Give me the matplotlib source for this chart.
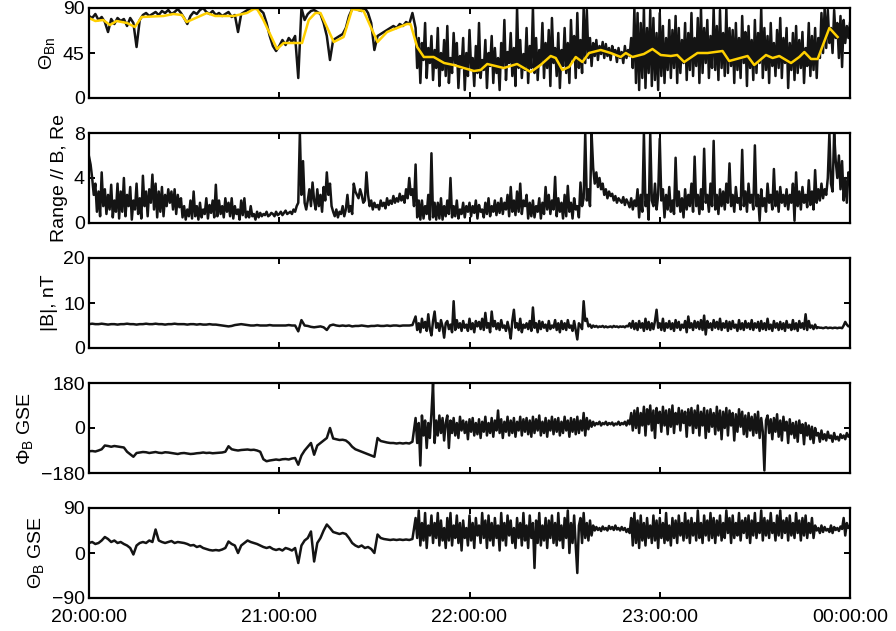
import numpy as np
import matplotlib
matplotlib.use("Agg")
import matplotlib.pyplot as plt

plt.rcParams['font.family'] = ['Liberation Sans', 'DejaVu Sans']
plt.rcParams['mathtext.fontset'] = 'custom'
plt.rcParams['mathtext.rm'] = 'Liberation Sans'
plt.rcParams['mathtext.it'] = 'Liberation Sans:italic'

FS = 14

# 1-minute samples from 20:00 to 21:42, then 30-s samples from 21:43 onwards
theta_bn_1min = [
    82, 80, 84, 78, 81, 76, 66, 79, 74, 80,
    77, 79, 72, 80, 75, 51, 78, 83, 85, 82,
    84, 86, 83, 87, 85, 88, 84, 86, 89, 85,
    80, 74, 82, 86, 84, 88, 90, 86, 84, 87,
    83, 85, 82, 84, 86, 81, 83, 66, 84, 86,
    88, 89, 90, 89, 88, 85, 75, 62, 52, 47,
    52, 58, 53, 60, 56, 62, 20, 90, 78, 84,
    87, 88, 86, 84, 75, 62, 38, 58, 60, 62,
    64, 70, 82, 89, 90, 88, 87, 90, 85, 75,
    48, 62, 64, 66, 68, 70, 72, 70, 74, 72,
    76, 74, 85,
]
theta_bn_30s = [
    70, 30, 60, 15, 55, 38, 75, 20, 50, 35,
    62, 18, 48, 30, 70, 12, 45, 28, 58, 22,
    72, 15, 40, 25, 65, 35, 55, 10, 42, 30,
    60, 8, 45, 22, 68, 30, 40, 12, 52, 25,
    75, 20, 38, 28, 58, 10, 45, 32, 62, 15,
    50, 25, 40, 8, 55, 30, 78, 18, 46, 35,
    65, 22, 50, 12, 90, 30, 58, 20, 44, 28,
    70, 15, 52, 30, 90, 25, 60, 18, 48, 35,
    75, 20, 55, 30, 68, 12, 80, 35, 50, 22,
    65, 10, 48, 32, 70, 25, 55, 15, 78, 38,
    62, 20, 85, 30, 58, 25, 90, 35, 88, 40,
    60, 32, 55, 42, 58, 38, 52, 44, 56, 40,
    54, 42, 50, 38, 52, 45, 48, 36, 50, 40,
    46, 35, 52, 40, 48, 42, 60, 30, 90, 15,
    85, 8, 75, 20, 90, 10, 70, 25, 88, 12,
    80, 18, 65, 8, 85, 22, 72, 15, 60, 28,
    78, 20, 68, 30, 82, 15, 70, 25, 58, 35,
    75, 18, 65, 28, 85, 22, 60, 32, 80, 15,
    90, 25, 70, 35, 78, 20, 62, 30, 90, 28,
    72, 18, 88, 30, 65, 22, 90, 25, 70, 32,
    68, 15, 75, 28, 60, 20, 82, 35, 66, 12,
    72, 30, 58, 18, 78, 25, 65, 35, 90, 20,
    70, 28, 62, 15, 75, 32, 55, 22, 68, 30,
    80, 20, 60, 35, 70, 10, 55, 28, 65, 18,
    72, 25, 58, 30, 66, 15, 50, 32, 75, 22,
    62, 28, 70, 20, 60, 40, 85, 45, 90, 50,
    88, 55, 70, 45, 88, 60, 75, 40, 82, 31,
    78, 55, 72, 60, 75,
]

# running average of theta_Bn (minutes after 20:00, degrees)
theta_avg_min = [
    0, 2, 4.5, 6.6, 8.7, 12, 14.5, 16.6, 23.5, 26.6,
    29.3, 30.8, 37.2, 39.8, 45.6, 49.8, 52, 53, 55, 59.3,
    61.4, 64.5, 67.2, 69.3, 71.4, 73, 77.2, 80.3, 83, 86.6,
    91, 94, 100.3, 101.4, 103.5, 105.6, 108.7, 112, 115, 121.4,
    123.5, 125.6, 130.8, 135, 139.3, 142.4, 145.6, 147.2, 149.3, 151.4,
    153.5, 155.6, 157.7, 161.4, 164.5, 167.7, 169.3, 171.4, 175, 177.7,
    180.3, 183.5, 185.5, 187.7, 191.9, 195.1, 199.8, 201.9, 207.7, 209.8,
    213.5, 215.6, 217.7, 221.4, 224, 225.6, 227.7, 229.8, 233.5, 236.1,
]
theta_avg = [
    80, 77, 78, 73, 77, 75, 71, 81, 82, 84,
    83, 76, 85, 82, 82, 85, 89, 89, 78, 49,
    55, 55, 55, 78, 85, 85, 56, 61, 89, 87,
    56, 66, 74, 74, 51, 41, 41, 35, 33, 27,
    28, 34, 30, 34, 26, 33, 42, 40, 28, 31,
    41, 36, 45, 48, 45, 41, 45, 41, 44, 49,
    43, 42, 43, 36, 45, 45, 47, 37, 42, 33,
    43, 40, 42, 35, 41, 46, 39, 39, 70, 61,
]

# connection range along B, 30-s samples over the full interval
range_re_30s = [
    5.9, 5.2, 4.0, 2.5, 3.5, 1.0, 2.8, 0.6, 4.5, 1.5,
    3.0, 0.8, 2.5, 1.2, 3.4, 0.5, 2.0, 1.0, 3.5, 0.4,
    2.8, 1.0, 4.0, 0.6, 2.5, 1.5, 3.2, 0.3, 2.0, 1.2,
    3.5, 0.8, 2.2, 0.4, 4.2, 1.5, 2.8, 0.6, 3.0, 1.8,
    4.3, 1.2, 3.5, 0.5, 2.8, 1.0, 3.2, 0.6, 2.5, 1.5,
    3.0, 1.8, 2.8, 1.2, 3.0, 0.8, 2.5, 1.4, 2.2, 0.5,
    1.5, 0.3, 1.2, 0.6, 2.0, 0.4, 2.8, 0.6, 1.5, 0.3,
    1.8, 0.5, 1.2, 0.8, 2.2, 0.4, 1.6, 0.9, 2.0, 0.5,
    3.4, 0.6, 2.0, 0.8, 1.5, 0.5, 2.2, 1.0, 1.8, 0.6,
    2.2, 0.4, 1.5, 0.8, 1.2, 0.3, 2.0, 0.7, 2.2, 0.5,
    1.0, 0.5, 1.5, 0.6, 0.8, 0.3, 1.0, 0.5, 0.9, 0.6,
    0.8, 0.7, 1.0, 0.6, 0.7, 0.9, 0.8, 0.6, 1.0, 0.7,
    0.8, 1.0, 0.7, 0.9, 1.1, 0.8, 0.9, 1.0, 0.8, 1.2,
    1.0, 1.5, 1.8, 8.0, 2.5, 5.5, 1.8, 1.2, 2.0, 3.0,
    1.5, 3.6, 2.0, 1.2, 3.0, 1.5, 2.5, 1.0, 3.2, 2.0,
    4.5, 2.5, 3.5, 1.5, 1.0, 0.6, 1.2, 0.5, 1.0, 0.8,
    1.5, 0.6, 1.2, 2.5, 1.0, 1.5, 0.8, 3.5, 2.8, 2.5,
    2.2, 3.0, 2.5, 1.8, 2.0, 4.5, 2.5, 1.5, 2.0, 1.2,
    1.8, 1.4, 1.6, 1.2, 2.0, 1.5, 1.8, 1.3, 2.2, 1.6,
    2.0, 1.7, 2.4, 1.8, 2.2, 1.9, 2.6, 2.0, 2.4, 1.8,
    3.0, 2.2, 4.0, 2.5, 3.0, 1.5, 5.2, 0.5, 2.0, 0.3,
    2.0, 0.4, 1.5, 0.8, 2.5, 0.3, 6.2, 0.5, 1.8, 0.3,
    1.8, 0.4, 2.2, 0.3, 1.5, 0.6, 2.0, 0.8, 4.0, 0.5,
    1.5, 0.6, 2.0, 0.4, 1.2, 0.8, 1.8, 0.5, 1.5, 1.0,
    1.8, 0.6, 1.5, 0.9, 2.0, 0.4, 1.6, 1.0, 1.2, 0.5,
    1.8, 0.8, 2.2, 0.6, 1.5, 1.0, 2.0, 0.7, 1.8, 0.9,
    2.2, 0.8, 1.8, 1.2, 2.5, 0.6, 3.2, 1.0, 2.0, 0.7,
    2.8, 1.0, 3.5, 0.8, 2.0, 1.5, 2.5, 0.4, 1.8, 0.6,
    2.0, 0.5, 1.5, 1.0, 2.2, 0.4, 1.8, 0.8, 3.2, 1.2,
    2.5, 0.8, 2.0, 1.2, 4.1, 0.6, 2.2, 1.0, 1.8, 0.4,
    2.5, 0.6, 3.3, 1.0, 1.8, 0.4, 2.2, 1.2, 1.5, 0.5,
    3.6, 1.5, 2.2, 8.0, 2.0, 3.0, 1.5, 8.0, 4.9, 3.5,
    4.5, 3.2, 4.0, 3.0, 3.5, 2.5, 3.0, 2.2, 2.8, 2.4,
    2.6, 2.0, 2.4, 1.8, 2.2, 2.0, 1.8, 2.3, 1.6, 2.1,
    1.8, 1.4, 2.2, 1.2, 2.0, 1.5, 3.0, 0.5, 2.5, 1.0,
    8.0, 1.5, 2.5, 0.3, 8.0, 2.0, 1.5, 3.5, 1.2, 2.5,
    7.5, 2.0, 3.0, 0.5, 2.5, 1.2, 3.2, 1.0, 2.0, 0.8,
    5.8, 1.5, 2.8, 1.0, 2.2, 0.5, 3.0, 1.2, 2.5, 1.5,
    3.5, 1.0, 5.9, 1.5, 2.5, 0.8, 3.0, 1.2, 6.6, 1.8,
    2.5, 1.0, 3.5, 1.5, 7.3, 1.2, 2.5, 0.8, 3.0, 1.5,
    2.8, 1.2, 3.5, 1.8, 5.3, 1.5, 2.5, 1.0, 3.2, 1.8,
    2.2, 1.2, 6.5, 1.5, 2.8, 1.0, 3.5, 1.8, 2.5, 1.2,
    6.9, 1.5, 2.5, 0.2, 3.0, 1.5, 2.2, 1.0, 3.5, 1.8,
    2.5, 1.2, 4.8, 1.5, 2.8, 1.0, 3.2, 1.8, 2.5, 1.5,
    3.0, 1.2, 2.5, 1.8, 3.5, 0.2, 4.5, 1.5, 2.8, 1.2,
    3.2, 1.8, 2.5, 1.4, 3.8, 1.6, 2.8, 1.2, 4.7, 1.8,
    3.0, 2.0, 3.5, 2.2, 3.0, 2.5, 4.0, 8.0, 3.5, 2.8,
    8.0, 5.5, 4.0, 6.0, 3.0, 5.5, 2.0, 4.0, 1.8, 4.5,
    4.2,
]

b_mag_1min = [
    5.3, 5.4, 5.3, 5.3, 5.4, 5.3, 5.2, 5.3, 5.3, 5.2,
    5.3, 5.3, 5.4, 5.3, 5.3, 5.2, 5.3, 5.3, 5.4, 5.3,
    5.3, 5.4, 5.3, 5.3, 5.2, 5.3, 5.3, 5.4, 5.3, 5.3,
    5.3, 5.2, 5.3, 5.3, 5.2, 5.3, 5.2, 5.2, 5.3, 5.2,
    5.2, 5.1, 5.0, 4.9, 4.8, 4.9, 5.1, 5.2, 5.3, 5.2,
    5.1, 5.0, 5.0, 5.1, 5.0, 5.0, 5.0, 5.1, 5.0, 5.0,
    5.0, 5.0, 5.0, 5.1, 5.0, 5.0, 3.7, 6.2, 5.0, 4.9,
    4.7, 4.6, 4.7, 4.8, 4.6, 4.0, 5.0, 5.2, 5.0, 4.9,
    5.0, 4.9, 5.0, 4.8, 4.9, 4.9, 5.0, 4.9, 4.8, 4.9,
    4.9, 5.0, 4.9, 4.9, 5.0, 4.9, 5.0, 5.0, 4.9, 5.0,
    5.0, 5.0, 5.1,
]
b_mag_30s = [
    7.0, 4.0, 5.5, 3.5, 6.5, 4.5, 5.8, 3.8, 7.5, 4.2,
    2.8, 6.0, 8.1, 4.5, 5.5, 3.8, 6.2, 4.8, 2.3, 5.5,
    6.0, 4.2, 5.2, 3.5, 10.4, 4.0, 6.2, 4.5, 5.5, 3.8,
    6.0, 4.5, 5.2, 3.8, 6.5, 4.2, 5.5, 3.5, 6.0, 4.8,
    5.8, 4.2, 6.5, 4.0, 7.8, 4.5, 5.5, 3.5, 8.1, 4.8,
    6.0, 4.2, 5.5, 4.0, 6.2, 4.5, 5.0, 3.8, 5.8, 4.2,
    2.1, 6.0, 8.5, 4.5, 5.5, 4.0, 6.5, 3.5, 5.2, 4.5,
    5.5, 4.2, 6.0, 3.8, 9.0, 4.5, 5.5, 3.5, 6.0, 4.2,
    5.8, 4.5, 5.2, 3.8, 6.0, 4.2, 5.0, 4.5, 6.2, 4.0,
    5.5, 3.5, 6.0, 4.2, 5.5, 4.0, 6.2, 4.5, 5.0, 3.8,
    6.0, 4.0, 1.9, 5.5, 5.0, 4.2, 10.4, 6.0, 6.5, 4.8,
    5.2, 4.5, 5.0, 4.7, 4.9, 4.6, 4.8, 4.7, 4.9, 4.6,
    4.8, 4.6, 4.7, 4.8, 4.6, 4.9, 4.7, 4.8, 4.6, 4.8,
    4.7, 4.8, 4.6, 4.9, 4.8, 5.5, 4.5, 6.0, 4.2, 5.5,
    4.0, 6.0, 4.5, 5.5, 3.8, 6.5, 4.2, 5.8, 4.0, 5.5,
    4.2, 6.0, 8.5, 4.5, 5.5, 4.0, 6.5, 3.8, 5.5, 4.5,
    6.0, 4.2, 5.5, 3.8, 6.2, 4.5, 5.8, 4.0, 5.2, 4.5,
    6.0, 3.5, 7.0, 4.5, 5.5, 4.0, 6.0, 4.5, 5.8, 4.2,
    6.2, 4.0, 7.2, 3.0, 6.0, 4.5, 5.5, 4.0, 6.2, 4.5,
    5.8, 4.2, 6.5, 4.0, 5.5, 4.5, 6.0, 3.8, 5.8, 4.2,
    6.0, 4.5, 5.2, 3.8, 6.2, 4.2, 5.5, 4.0, 6.0, 4.5,
    5.5, 4.2, 6.2, 4.0, 5.5, 4.5, 5.8, 3.8, 6.0, 4.2,
    5.5, 4.0, 6.5, 4.2, 5.2, 3.8, 6.0, 4.5, 5.5, 4.0,
    5.8, 4.2, 5.5, 3.8, 6.0, 4.5, 5.2, 4.0, 6.2, 4.2,
    5.5, 3.8, 6.0, 4.5, 5.5, 4.2, 7.5, 4.0, 6.0, 4.5,
    5.0, 4.2, 5.2, 4.4, 4.6, 4.5, 4.5, 4.4, 4.5, 4.6,
    4.4, 4.5, 4.5, 4.4, 4.5, 4.5, 4.4, 4.5, 4.5, 4.4,
    5.0, 5.8, 5.2, 4.8, 5.0,
]

phi_gse_1min = [
    -93, -92, -94, -90, -85, -70, -72, -75, -72, -74,
    -76, -78, -95, -105, -115, -100, -98, -96, -97, -100,
    -98, -96, -99, -100, -97, -98, -100, -102, -104, -101,
    -100, -102, -104, -103, -101, -100, -98, -100, -99, -101,
    -100, -99, -98, -95, -73, -85, -88, -90, -88, -87,
    -86, -88, -87, -90, -95, -125, -133, -130, -128, -126,
    -128, -125, -124, -126, -122, -120, -147, -110, -90, -75,
    -60, -107, -70, -60, -50, -40, 0, -42, -45, -48,
    -47, -50, -60, -75, -85, -90, -95, -100, -105, -110,
    -115, -40, -52, -55, -58, -60, -60, -62, -60, -62,
    -60, -62, -55,
]
phi_gse_30s = [
    40, -60, 20, -150, 50, -30, 30, -80, 20, -40,
    60, 180, -60, 30, -30, 50, -20, 40, -50, 20,
    50, -80, 30, -20, 40, -30, 20, -40, 45, -10,
    30, -20, 25, -45, 35, -15, 40, -30, 20, -25,
    35, -40, 25, -15, 45, -30, 20, -20, 40, -35,
    30, -10, 70, -20, 35, -40, 25, -15, 45, -30,
    30, -20, 40, -35, 25, -10, 45, -30, 35, -15,
    40, -25, 30, -35, 45, -20, 35, -10, 50, -30,
    25, -20, 40, -35, 30, -10, 45, -25, 35, -15,
    40, -30, 25, -20, 45, -10, 30, -35, 40, -15,
    35, -25, 45, -20, 30, -10, 60, -30, 40, -5,
    30, 5, 25, 10, 20, 15, 25, 10, 20, 15,
    25, 12, 20, 15, 22, 10, 18, 14, 25, 12,
    20, 15, 25, 10, 30, 15, 60, -10, 70, 0,
    80, -20, 60, 10, 85, -30, 75, 15, 90, -10,
    70, -40, 80, 20, 65, -15, 85, 10, 70, -25,
    75, 5, 90, -20, 60, 15, 80, -10, 70, 20,
    65, -35, 75, 10, 80, -20, 70, 0, 90, -30,
    65, 10, 80, -40, 70, -15, 75, 5, 60, -25,
    85, -10, 70, -45, 65, 0, 80, -30, 70, 10,
    60, -50, 55, -15, 75, 5, 65, -25, 50, -35,
    60, -10, 45, -30, 55, -20, 65, -40, 40, -15,
    -170, 30, 50, -20, 35, -45, 40, -15, 55, -35,
    30, -50, 45, -10, 25, -60, 35, -25, 20, -40,
    25, -55, 30, -20, 15, -65, 20, -30, 10, -45,
    5, -60, 0, -30, -20, -55, -10, -45, -25, -50,
    -15, -40, -30, -55, -20, -45, -35, -50, -25, -40,
    -30, -45, -20, -35, -25,
]

theta_gse_1min = [
    20, 22, 18, 20, 25, 32, 28, 22, 25, 20,
    22, 18, 15, 10, -3, 15, 20, 22, 20, 25,
    22, 47, 25, 22, 20, 22, 24, 20, 22, 21,
    20, 18, 15, 16, 12, 14, 10, 8, 6, 5,
    6, 5, 7, 10, 23, 18, 15, 0, 15, 20,
    25, 22, 20, 18, 15, 12, 10, 12, 8, 6,
    8, 5, 10, 8, 5, 10, -20, 15, 25, 30,
    43, -17, 20, 30, 45, 57, 50, 42, 40, 38,
    40, 38, 30, 20, 15, 12, 15, 10, 12, 8,
    0, 37, 30, 28, 27, 26, 27, 26, 27, 26,
    27, 26, 28,
]
theta_gse_30s = [
    70, 30, 85, 15, 60, 25, 80, 10, 55, 35,
    75, 20, 60, 30, 80, 15, 65, 25, 50, 10,
    70, 25, 80, 15, 55, 30, 75, 20, 60, 5,
    65, 30, 50, 15, 75, 25, 60, 10, 70, 35,
    55, 20, 80, 30, 65, 10, 75, 25, 60, 15,
    70, 30, 55, 5, 80, 25, 60, 15, 75, 35,
    65, 20, 50, 10, 70, 30, 60, 15, 80, 25,
    55, 10, 75, 30, 60, -30, 65, 20, 80, 15,
    55, 25, 70, 10, 65, 30, 75, 20, 60, 15,
    80, 25, 55, 10, 70, 30, 85, 0, 60, 20,
    75, 15, -40, 55, 70, 20, 80, 30, 60, 25,
    65, 35, 55, 45, 52, 46, 50, 44, 53, 47,
    50, 45, 54, 48, 52, 46, 55, 47, 50, 45,
    52, 46, 50, 42, 48, 40, 70, 15, 80, 20,
    65, 10, 75, 25, 60, 15, 70, 30, 55, 20,
    75, 25, 65, 10, 70, 30, 60, 20, 80, 25,
    55, 15, 70, 30, 65, 20, 75, 35, 60, 25,
    80, 30, 65, 20, 70, 35, 60, 25, 85, 30,
    60, 20, 75, 35, 65, 25, 80, 30, 70, 20,
    65, 35, 75, 25, 60, 30, 85, 40, 70, 20,
    75, 30, 60, 35, 80, 25, 65, 40, 70, 30,
    75, 20, 65, 35, 80, 30, 60, 40, 85, 25,
    70, 35, 65, 30, 80, 40, 60, 25, 75, 35,
    85, 30, 65, 40, 70, 25, 75, 35, 60, 30,
    80, 40, 65, 25, 70, 35, 75, 30, 60, 40,
    70, 30, 55, 45, 50, 40, 55, 42, 52, 45,
    48, 42, 55, 40, 52, 46, 50, 44, 53, 48,
    70, 35, 60, 50, 55,
]

time_ticks = [0, 60, 120, 180, 240]
time_labels = ['20:00:00', '21:00:00', '22:00:00', '23:00:00', '00:00:00']


def series(*segments):
    """Join (start minute, cadence in minutes, values) segments into t, y."""
    t, y = [], []
    for start, step, vals in segments:
        t.append(start + step * np.arange(len(vals)))
        y.append(np.asarray(vals, dtype=float))
    return np.concatenate(t), np.concatenate(y)


panels = [
    (series((0, 1, theta_bn_1min), (103, 0.5, theta_bn_30s)),
     'Θ$_{\\rm Bn}$', (0, 90), [0, 45, 90]),
    (series((0, 0.5, range_re_30s)),
     'Range // B, Re', (0, 8), [0, 4, 8]),
    (series((0, 1, b_mag_1min), (103, 0.5, b_mag_30s)),
     '|B|, nT', (0, 20), [0, 10, 20]),
    (series((0, 1, phi_gse_1min), (103, 0.5, phi_gse_30s)),
     'Φ$_{\\rm B}$ GSE', (-180, 180), [-180, 0, 180]),
    (series((0, 1, theta_gse_1min), (103, 0.5, theta_gse_30s)),
     'Θ$_{\\rm B}$ GSE', (-90, 90), [-90, 0, 90]),
]

fig = plt.figure(figsize=(8.96, 6.31), dpi=100)
left, width, height = 89 / 896, 761 / 896, 90 / 631
tops = [8, 133, 258, 383, 508]

dark = '#141414'
for i, ((t, y), label, ylim, yticks) in enumerate(panels):
    top = tops[i]
    ax = fig.add_axes([left, 1 - (top + 90) / 631, width, height])
    ax.plot(t, y, color=dark, lw=1.8)
    if i == 0:
        ax.plot(theta_avg_min, theta_avg, color='#FFD000', lw=1.8)
    ax.set_xlim(0, 240)
    ax.set_ylim(*ylim)
    ax.set_yticks(yticks)
    ax.set_xticks(time_ticks)
    if i == len(panels) - 1:
        ax.set_xticklabels(time_labels)
    else:
        ax.set_xticklabels([])
    ax.set_ylabel(label, fontsize=FS, labelpad=4)
    ax.tick_params(direction='in', top=True, right=True, length=4, width=1.4,
                   labelsize=FS)
    ax.tick_params(axis='y', pad=3)
    ax.tick_params(axis='x', pad=8)
    for s in ax.spines.values():
        s.set_linewidth(1.6)

fig.savefig('out.png', dpi=100)
